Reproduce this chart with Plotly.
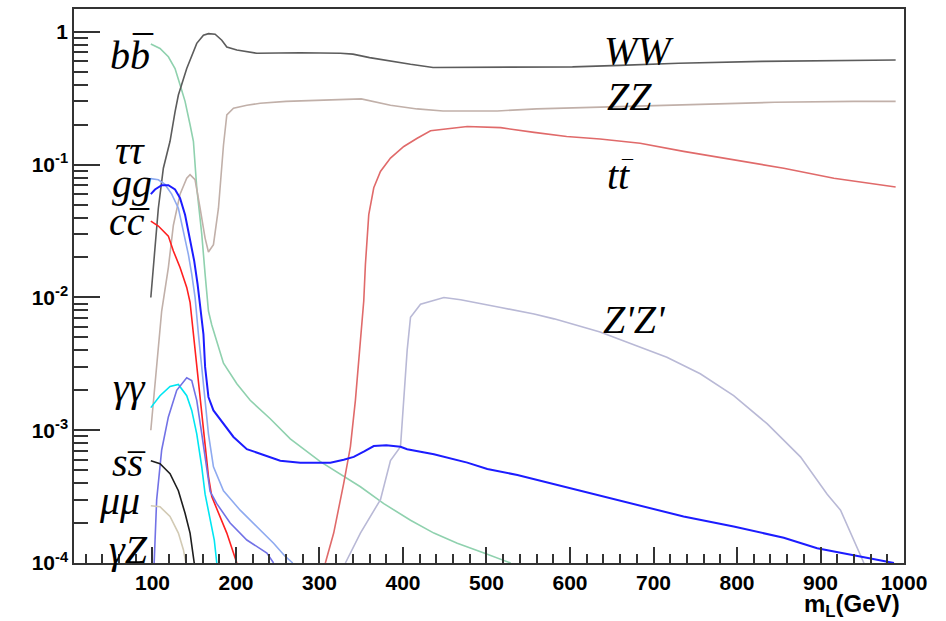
import plotly.graph_objects as go

# ---------------- data ----------------
ww_x = [98, 103, 107, 113, 118, 121, 127, 131, 141, 147, 153, 161, 167, 175, 183, 189, 201, 225, 277, 325, 340, 360, 385, 409, 436, 520, 603, 660, 730, 830, 937, 990]
ww_y = [0.010, 0.024, 0.047, 0.094, 0.13, 0.15, 0.25, 0.335, 0.53, 0.67, 0.82, 0.944, 0.97, 0.96, 0.866, 0.77, 0.73, 0.69, 0.696, 0.69, 0.68, 0.64, 0.60, 0.57, 0.54, 0.54, 0.545, 0.56, 0.58, 0.60, 0.61, 0.615]

zz_x = [98, 105, 111, 119, 125, 133, 141, 145, 151, 157, 163, 167, 173, 179, 183, 185, 189, 197, 213, 229, 260, 320, 350, 385, 417, 448, 513, 560, 620, 680, 750, 845, 940, 990]
zz_y = [0.001, 0.003, 0.0079, 0.0168, 0.035, 0.06, 0.079, 0.084, 0.077, 0.047, 0.028, 0.022, 0.025, 0.047, 0.094, 0.14, 0.237, 0.266, 0.28, 0.29, 0.30, 0.31, 0.313, 0.28, 0.263, 0.254, 0.254, 0.263, 0.27, 0.274, 0.285, 0.295, 0.30, 0.30]

bb_x = [98, 109, 119, 127, 133, 139, 145, 149, 153, 159, 163, 167, 171, 177, 185, 201, 217, 241, 265, 301, 329, 349, 377, 409, 437, 465, 497, 529]
bb_y = [0.81, 0.75, 0.65, 0.53, 0.40, 0.30, 0.20, 0.15, 0.067, 0.030, 0.015, 0.0079, 0.0062, 0.0047, 0.0032, 0.00224, 0.00168, 0.00122, 0.00086, 0.00058, 0.00045, 0.000375, 0.00028, 0.00021, 0.000168, 0.000141, 0.000119, 0.0001]

tautau_x = [98, 107, 115, 123, 131, 137, 143, 147, 151, 155, 159, 163, 167, 173, 185, 205, 225, 245, 259, 268]
tautau_y = [0.0785, 0.077, 0.071, 0.06, 0.047, 0.0316, 0.021, 0.015, 0.010, 0.0053, 0.003, 0.0017, 0.00094, 0.00053, 0.00035, 0.00025, 0.000188, 0.000141, 0.000112, 0.0001]

gg_x = [98, 103, 111, 119, 127, 133, 139, 145, 150, 154, 157, 161, 163, 167, 173, 185, 197, 213, 233, 253, 277, 313, 329, 341, 353, 365, 380, 397, 405, 437, 477, 501, 537, 577, 620, 656, 676, 736, 796, 856, 896, 948, 988]
gg_y = [0.06, 0.065, 0.07, 0.07, 0.065, 0.056, 0.042, 0.028, 0.0188, 0.0126, 0.0085, 0.0053, 0.003, 0.00178, 0.00141, 0.00112, 0.00089, 0.00072, 0.00065, 0.00059, 0.00057, 0.00057, 0.0006, 0.00063, 0.00069, 0.00076, 0.00077, 0.00075, 0.00072, 0.00066, 0.00057, 0.00051, 0.00046, 0.000398, 0.00034, 0.000298, 0.00028, 0.000224, 0.000188, 0.000155, 0.000129, 0.000112, 0.0001]

cc_x = [98, 107, 119, 125, 133, 141, 145, 149, 153, 157, 163, 167, 171, 181, 189, 201]
cc_y = [0.0376, 0.0345, 0.029, 0.0224, 0.0168, 0.0119, 0.0092, 0.0053, 0.003, 0.00168, 0.00079, 0.00045, 0.000316, 0.000224, 0.000168, 0.0001]

aa_x = [98, 109, 121, 131, 141, 147, 153, 159, 163, 169, 174, 177]
aa_y = [0.00148, 0.00182, 0.00214, 0.00221, 0.00182, 0.00141, 0.00094, 0.00053, 0.00033, 0.00021, 0.000149, 0.0001]

az_x = [102, 105, 111, 119, 129, 141, 147, 153, 159, 165, 169, 177, 193, 213, 237, 245]
az_y = [0.0001, 0.0003, 0.00071, 0.00126, 0.002, 0.00248, 0.00237, 0.00168, 0.00094, 0.00053, 0.000346, 0.00028, 0.0002, 0.000149, 0.000119, 0.0001]

ss_x = [98, 109, 121, 131, 139, 145, 150]
ss_y = [0.00059, 0.00056, 0.00047, 0.00035, 0.000237, 0.000168, 0.0001]

mumu_x = [98, 109, 121, 131, 137, 140]
mumu_y = [0.00027, 0.000265, 0.000224, 0.000168, 0.000126, 0.0001]

tt_x = [307, 317, 329, 337, 343, 349, 353, 355, 359, 365, 373, 385, 401, 417, 433, 477, 517, 557, 596, 636, 684, 736, 796, 856, 916, 990]
tt_y = [0.0001, 0.000168, 0.000398, 0.00075, 0.00168, 0.0045, 0.0094, 0.0178, 0.042, 0.067, 0.089, 0.112, 0.137, 0.158, 0.18, 0.194, 0.19, 0.175, 0.163, 0.156, 0.145, 0.126, 0.109, 0.094, 0.079, 0.068]

zpzp_x = [331, 349, 373, 385, 397, 401, 405, 409, 421, 449, 469, 517, 557, 581, 636, 716, 756, 796, 836, 876, 908, 924, 936, 952]
zpzp_y = [0.0001, 0.000168, 0.0003, 0.00059, 0.00075, 0.00168, 0.004, 0.0071, 0.0089, 0.010, 0.0096, 0.0084, 0.0075, 0.0069, 0.0055, 0.00355, 0.00266, 0.00182, 0.00112, 0.00063, 0.00033, 0.00025, 0.000168, 0.0001]

x_ticks = [100, 200, 300, 400, 500, 600, 700, 800, 900, 1000]
y_ticks = [1e-4, 1e-3, 1e-2, 1e-1, 1]
y_ticktext = ["10<sup>-4</sup>", "10<sup>-3</sup>", "10<sup>-2</sup>", "10<sup>-1</sup>", "1"]

X_RANGE = [6, 1000]
Y_RANGE = [-4, 0.1725]

series = [
    ("bb", bb_x, bb_y, "#8fd1ae", 1.6),
    ("WW", ww_x, ww_y, "#5c5c5c", 1.6),
    ("ZZ", zz_x, zz_y, "#c1b0a9", 1.6),
    ("tt", tt_x, tt_y, "#e06a6a", 1.6),
    ("ZpZp", zpzp_x, zpzp_y, "#b9b9d6", 1.6),
    ("tautau", tautau_x, tautau_y, "#8eaaf0", 1.6),
    ("gg", gg_x, gg_y, "#1c1cff", 2.0),
    ("cc", cc_x, cc_y, "#ff2020", 1.6),
    ("gamgam", aa_x, aa_y, "#00e6f2", 1.6),
    ("gamZ", az_x, az_y, "#7272e6", 1.6),
    ("ss", ss_x, ss_y, "#1e1e1e", 1.6),
    ("mumu", mumu_x, mumu_y, "#d2cab4", 1.6),
]

# channel labels (text, x, log10 y, font size)
labels = [
    ("WW", 683, -0.1365, 40),
    ("ZZ", 671, -0.489, 40),
    ("tt", 658, -1.08, 40),
    ("Z'Z'", 677, -2.167, 40),
    ("bb", 73, -0.179, 40),
    ("\u03c4\u03c4", 73, -0.894, 40),
    ("gg", 75.5, -1.142, 40),
    ("cc", 70, -1.427, 40),
    ("\u03b3\u03b3", 73, -2.68, 40),
    ("ss", 70, -3.242, 40),
    ("\u03bc\u03bc", 61, -3.527, 40),
    ("\u03b3Z", 71, -3.902, 40),
]
# anti-particle bars above the second letter (x, log10 y, font size)
bars = [
    (88.8, 0.116, 40),
    (84.0, -1.202, 38),
    (80.4, -3.057, 34),
    (669.0, -0.887, 22),
]

fig = go.Figure()
for name, xs, ys, col, w in series:
    fig.add_trace(go.Scatter(x=xs, y=ys, mode="lines", name=name,
                             line=dict(color=col, width=w)))

for text, lx, ly, fs in labels:
    fig.add_annotation(text="<i>" + text + "</i>", x=lx, y=ly, xref="x", yref="y",
                       showarrow=False, xanchor="center", yanchor="middle",
                       font=dict(family="Liberation Serif", size=fs, color="black"))
for bx, by, fs in bars:
    fig.add_annotation(text="_", x=bx, y=by, xref="x", yref="y",
                       showarrow=False, xanchor="center", yanchor="middle",
                       font=dict(family="Liberation Serif", size=fs, color="black"))

fig.add_annotation(text="<b>m<sub>L</sub>(GeV)</b>", xref="paper", yref="paper",
                   x=0.9976, y=-0.077, xanchor="right", yanchor="middle", showarrow=False,
                   font=dict(family="Liberation Sans", size=24, color="black"))

tick_font = dict(family="Liberation Sans", size=21, color="black", weight="bold")

fig.update_xaxes(range=X_RANGE, tickmode="array", tickvals=x_ticks, ticklen=16,
                 showline=True, linecolor="#333333", linewidth=1.5, mirror=True,
                 ticks="inside", tickcolor="#333333", tickwidth=2, tickfont=tick_font,
                 minor=dict(tick0=0, dtick=20, ticks="inside", ticklen=9,
                            tickcolor="#333333", tickwidth=2))
fig.update_yaxes(type="log", range=Y_RANGE, tickmode="array", tickvals=y_ticks,
                 ticktext=y_ticktext, ticklen=26,
                 showline=True, linecolor="#333333", linewidth=1.5, mirror=True,
                 ticks="inside", tickcolor="#333333", tickwidth=2, tickfont=tick_font,
                 minor=dict(dtick="D1", ticks="inside", ticklen=14,
                            tickcolor="#333333", tickwidth=2))

fig.update_layout(width=946, height=621, margin=dict(l=74, r=42, t=7, b=58),
                  paper_bgcolor="white", plot_bgcolor="white", showlegend=False)

fig.write_html("out.html")
